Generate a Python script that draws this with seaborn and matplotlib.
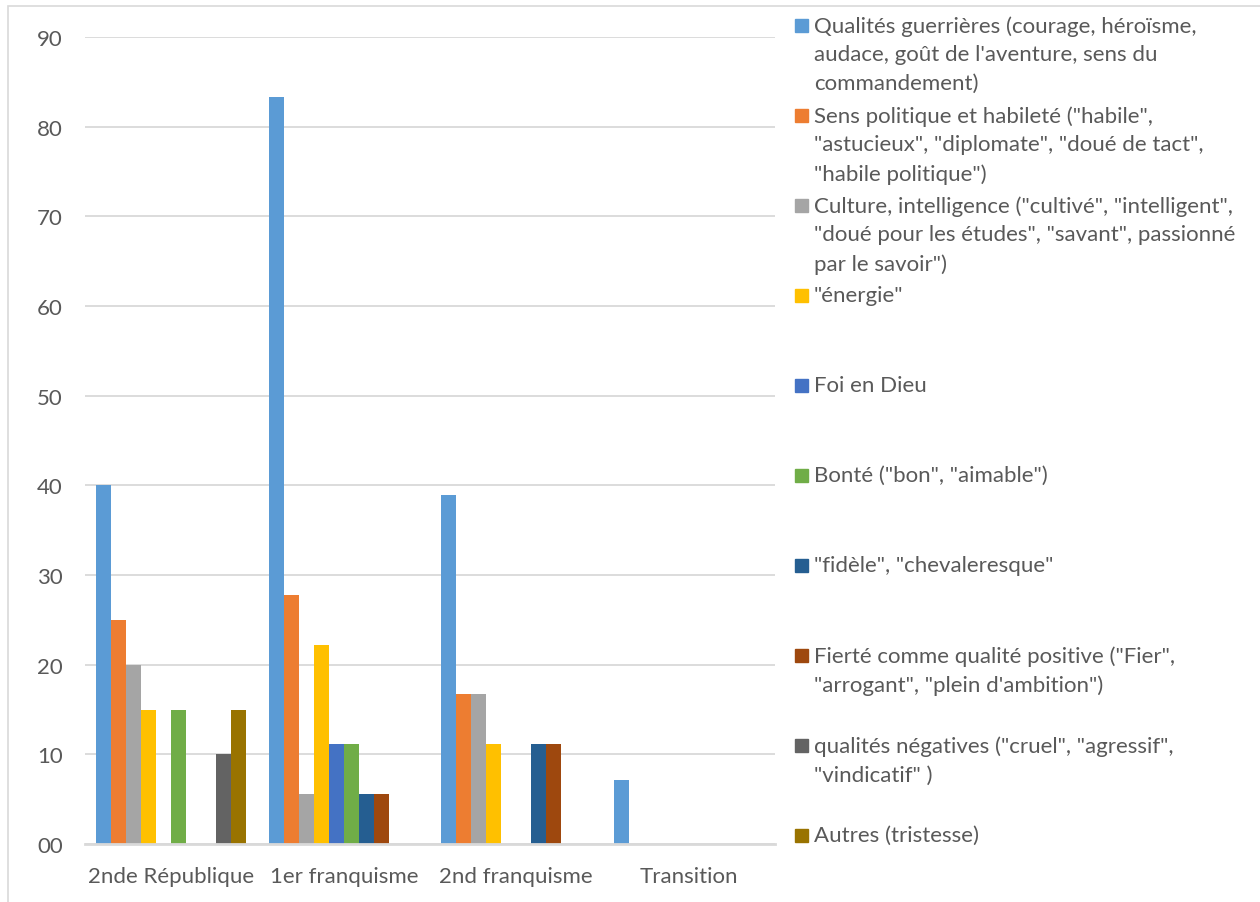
import numpy as np
import pandas as pd
import matplotlib
matplotlib.use("Agg")
import matplotlib.pyplot as plt
from matplotlib.patches import Rectangle
import seaborn as sns

# ==========================
# Data
# ==========================

periods = ["2nde République", "1er franquisme", "2nd franquisme", "Transition"]

series = [
    "Qualités guerrières (courage, héroïsme,\naudace, goût de l'aventure, sens du\ncommandement)",
    "Sens politique et habileté (\"habile\",\n\"astucieux\", \"diplomate\", \"doué de tact\",\n\"habile politique\")",
    "Culture, intelligence (\"cultivé\", \"intelligent\",\n\"doué pour les études\", \"savant\", passionné\npar le savoir\")",
    "\"énergie\"",
    "Foi en Dieu",
    "Bonté (\"bon\", \"aimable\")",
    "\"fidèle\", \"chevaleresque\"",
    "Fierté comme qualité positive (\"Fier\",\n\"arrogant\", \"plein d'ambition\")",
    "qualités négatives (\"cruel\", \"agressif\",\n\"vindicatif\" )",
    "Autres (tristesse)",
]

guerrieres = [40.0, 83.3, 38.9, 7.1]
politique = [25.0, 27.8, 16.7, 0]
culture = [20.0, 5.6, 16.7, 0]
energie = [15.0, 22.2, 11.1, 0]
foi = [0, 11.1, 0, 0]
bonte = [15.0, 11.1, 0, 0]
fidele = [0, 5.6, 11.1, 0]
fierte = [0, 5.6, 11.1, 0]
negatives = [10.0, 0, 0, 0]
autres = [15.0, 0, 0, 0]

values = [guerrieres, politique, culture, energie, foi,
          bonte, fidele, fierte, negatives, autres]

colors = ["#5B9BD5", "#ED7D31", "#A5A5A5", "#FFC000", "#4472C4",
          "#70AD47", "#255E91", "#9E480E", "#636363", "#997300"]

rows = []
for name, vals in zip(series, values):
    for p, v in zip(periods, vals):
        rows.append({"Période": p, "Série": name, "Valeur": v})
df = pd.DataFrame(rows)

# ==========================
# Plot
# ==========================

sns.set_style("white")
plt.rcParams["font.family"] = ["Lato", "DejaVu Sans"]
text_color = "#595959"
grid_color = "#D9D9D9"

W, H = 1260, 903
fig = plt.figure(figsize=(W / 100, H / 100), dpi=100)
ax = fig.add_axes([85 / W, (H - 845) / H, (775 - 85) / W, (845 - 38) / H])

sns.barplot(
    data=df, x="Période", y="Valeur", hue="Série",
    order=periods, hue_order=series, palette=colors,
    width=0.87, saturation=1, linewidth=0, legend=False, ax=ax
)

ax.set_xlim(-0.5, 3.5)
ax.set_ylim(0, 90)
ax.set_yticks(range(0, 91, 10))
ax.set_yticklabels([f"{t:02d}" for t in range(0, 91, 10)])
ax.yaxis.grid(True, color=grid_color, linewidth=1.3)
ax.set_axisbelow(True)
ax.set_xlabel("")
ax.set_ylabel("")
for s in ["left", "right", "top"]:
    ax.spines[s].set_visible(False)
ax.spines["bottom"].set_color(grid_color)
ax.spines["bottom"].set_linewidth(2)
ax.tick_params(axis="both", length=0, labelsize=16, colors=text_color)
ax.tick_params(axis="y", pad=16)
ax.tick_params(axis="x", pad=16)

# chart area border
fig.patches.append(Rectangle((8 / W, -0.1), 1.2, (H - 7) / H + 0.1,
                             transform=fig.transFigure, fill=False,
                             edgecolor=grid_color, linewidth=1.2))

# legend, entries spaced as in the original
for i, (name, c) in enumerate(zip(series, colors)):
    y = 27 + 90 * i
    fig.patches.append(Rectangle((795 / W, 1 - (y + 6) / H), 13 / W, 13 / H,
                                 transform=fig.transFigure, color=c))
    fig.text(814 / W, 1 - (y - 11) / H, name, fontsize=16, color=text_color,
             va="top", ha="left", linespacing=1.55)

fig.savefig("out.png", dpi=100)
